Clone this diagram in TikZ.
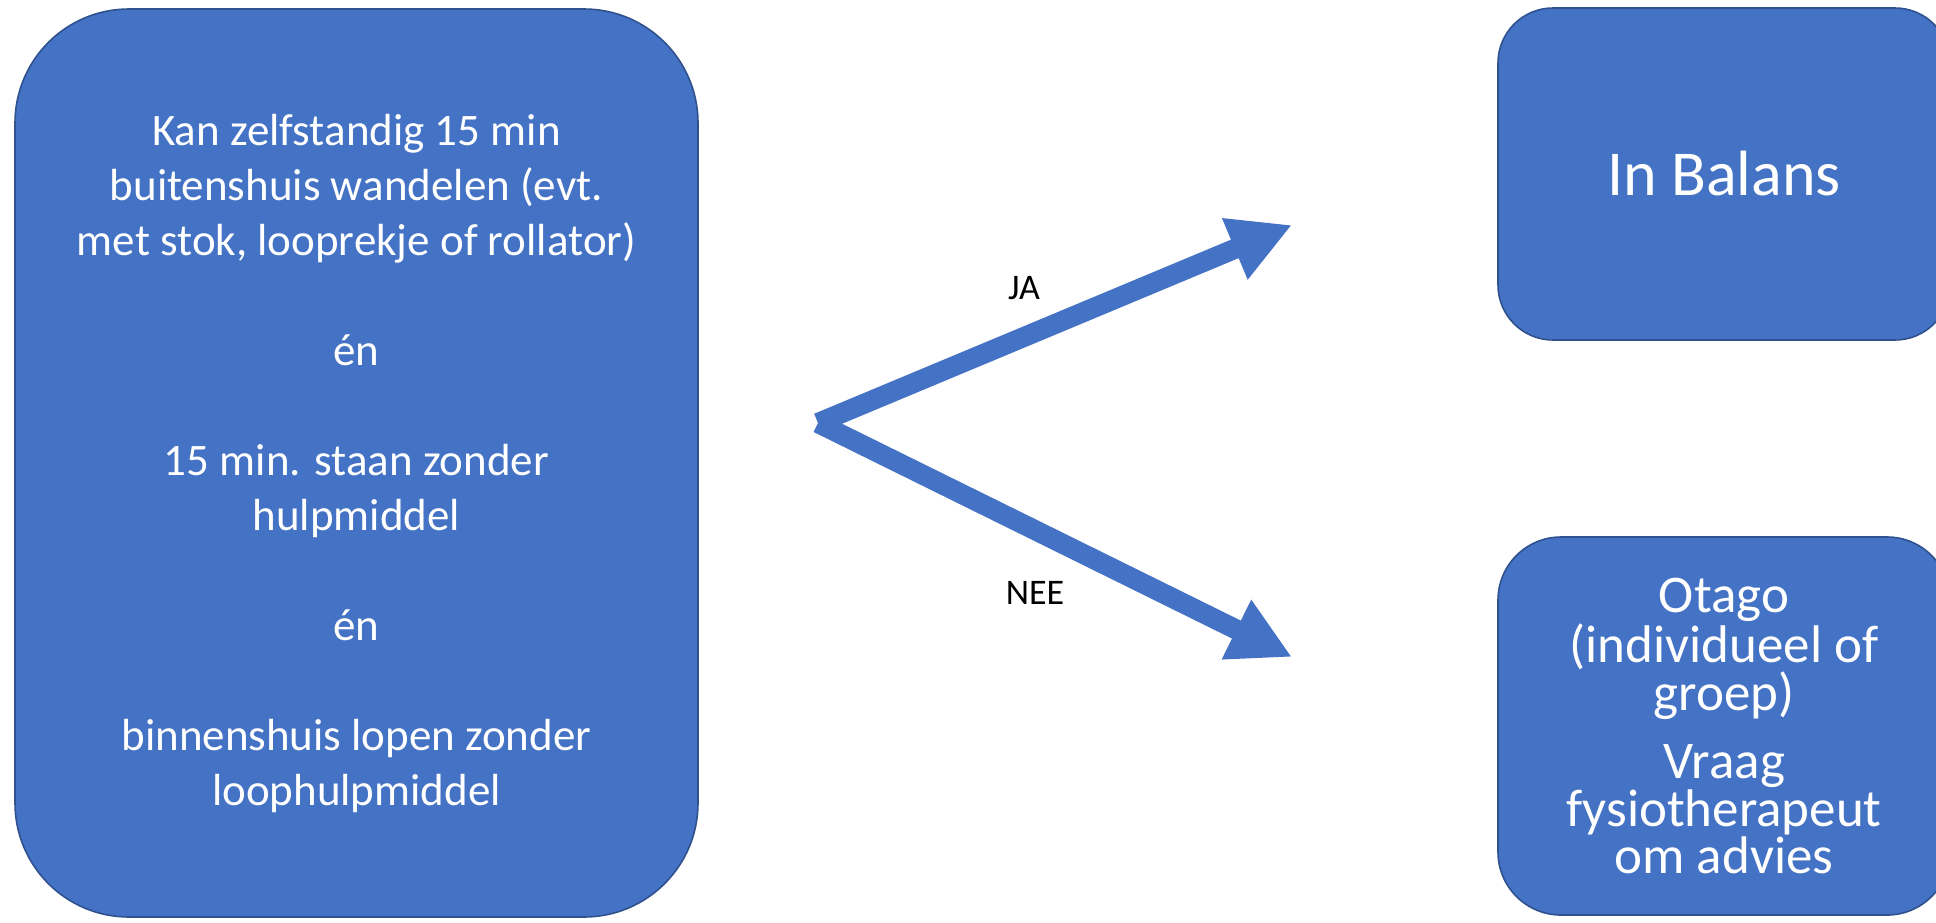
\documentclass[tikz,border=0pt]{standalone}
\usepackage{fontspec}
\setmainfont{Carlito}
\usetikzlibrary{arrows.meta}
\definecolor{boxBlue}{HTML}{4472C4}
\definecolor{edgeBlue}{HTML}{2F528F}
\begin{document}
\begin{tikzpicture}
        [x=0.5pt, y=-0.5pt,
        box/.style={draw=edgeBlue, fill=boxBlue, line width=0.8pt, text=white, align=center, inner sep=0pt, minimum width=226pt},
        branch/.style={draw=boxBlue, line width=10pt, -{Triangle[length=31pt, width=31pt]}},
        answer/.style={font=\fontsize{18}{22}\selectfont}]
        \useasboundingbox (0,0) rectangle (1936,922);

        \node[box, minimum width=341.5pt, minimum height=454pt, rounded corners=57pt, font=\fontsize{22.5}{27.5}\selectfont] (Q) at (356.5,463)
            {Kan zelfstandig 15 min\\ buitenshuis wandelen (evt.\\ met stok, looprekje of rollator)\\[\baselineskip]
             én\\[\baselineskip]
             15 min. staan zonder\\ hulpmiddel\\[\baselineskip]
             én\\[\baselineskip]
             binnenshuis lopen zonder\\ loophulpmiddel};
        \node[box, minimum height=166pt, rounded corners=27.5pt, font=\fontsize{32}{38}\selectfont] (B) at (1724,174) {In Balans};
        \node[box, minimum height=189pt, rounded corners=31.5pt, font=\fontsize{26.5}{22}\selectfont] (O) at (1724,726)
            {Otago\\ (individueel of\\ groep)\\[12pt] Vraag\\ fysiotherapeut\\ om advies};

        \coordinate (S) at (818,423);
        \coordinate (J) at (1292,225);
        \coordinate (N) at (1292,657);

        \draw[branch] (S) -- (J);
        \draw[branch] (S) -- (N);
        \node[answer] (ja) at (1024,288) {JA};
        \node[answer] (nee) at (1035,593) {NEE};

    \end{tikzpicture}
\end{document}
